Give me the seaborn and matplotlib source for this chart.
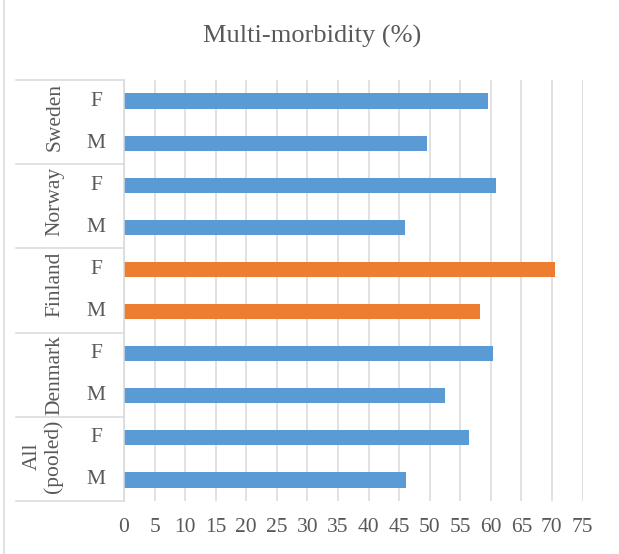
import pandas as pd
import seaborn as sns
import matplotlib.pyplot as plt
from matplotlib.transforms import blended_transform_factory
from matplotlib.lines import Line2D

# countries from top to bottom, each with F then M
countries = ["Sweden", "Norway", "Finland", "Denmark", "All\n(pooled)"]
sexes = ["F", "M"]
female = [59.5, 60.8, 70.5, 60.3, 56.4]
male = [49.6, 45.9, 58.3, 52.5, 46.1]
highlight = "Finland"
xticks = list(range(0, 80, 5))

rows, values, groups, sex_col, country_col = [], [], [], [], []
for c, f, m in zip(countries, female, male):
    for s, v in zip(sexes, [f, m]):
        rows.append(f"{c}|{s}")
        values.append(v)
        groups.append("hi" if c == highlight else "base")
        sex_col.append(s)
        country_col.append(c)
df = pd.DataFrame({"row": rows, "value": values, "group": groups,
                   "sex": sex_col, "country": country_col})

plt.rcParams["font.family"] = ["Liberation Serif", "DejaVu Serif"]
grey = "#595959"
line_col = "#D9D9D9"

fig = plt.figure(figsize=(6.19, 5.54), dpi=100)
W, H = 619, 554
ax = fig.add_axes([124 / W, 53 / H, (582.5 - 124) / W, (501 - 80) / H])

sns.barplot(data=df, x="value", y="row", hue="group", order=rows,
            palette={"base": "#5B9BD5", "hi": "#ED7D31"}, dodge=False,
            width=0.36, legend=False, saturation=1, ax=ax)

ax.set_xlim(0, 75)
ax.set_ylim(len(rows) - 0.5, -0.5)
ax.set_xticks(xticks)
ax.set_xticklabels([str(t) for t in xticks])
ax.set_yticks([])
ax.set_xlabel("")
ax.set_ylabel("")
ax.grid(axis="x", color=line_col, linewidth=1.1)
ax.set_axisbelow(True)
ax.tick_params(axis="x", length=0, pad=12, labelsize=15.5, labelcolor=grey)
for side in ["top", "right", "bottom"]:
    ax.spines[side].set_visible(False)
ax.spines["left"].set_color(line_col)
ax.spines["left"].set_linewidth(1.1)

# two-level category labels
tr = blended_transform_factory(fig.transFigure, ax.transData)
for i, (c, s) in enumerate(zip(country_col, sex_col)):
    ax.text(96 / W, i, s, transform=tr, ha="center", va="center",
            fontsize=15.5, color=grey)
for k, c in enumerate(countries):
    top = 2 * k - 0.5
    xpos = 43 / W if "\n" in c else 55 / W
    ax.text(xpos, top + 0.07, c, transform=tr, rotation=90, ha="center",
            va="top", fontsize=15.5, color=grey, multialignment="center",
            linespacing=1.05)
for k in range(len(countries) + 1):
    y = 2 * k - 0.5
    ax.plot([16 / W, 124 / W], [y, y], transform=tr, color=line_col,
            linewidth=1.1, clip_on=False)

ax.set_title("Multi-morbidity (%)", fontsize=19, color=grey, pad=0,
             x=(312.5 - 124) / (582.5 - 124), y=1 + 37 / (501 - 80))

fig.add_artist(Line2D([3.5 / W, 3.5 / W], [0, 1], transform=fig.transFigure,
                      color=line_col, linewidth=1.1))

fig.savefig("out.png", dpi=100)
